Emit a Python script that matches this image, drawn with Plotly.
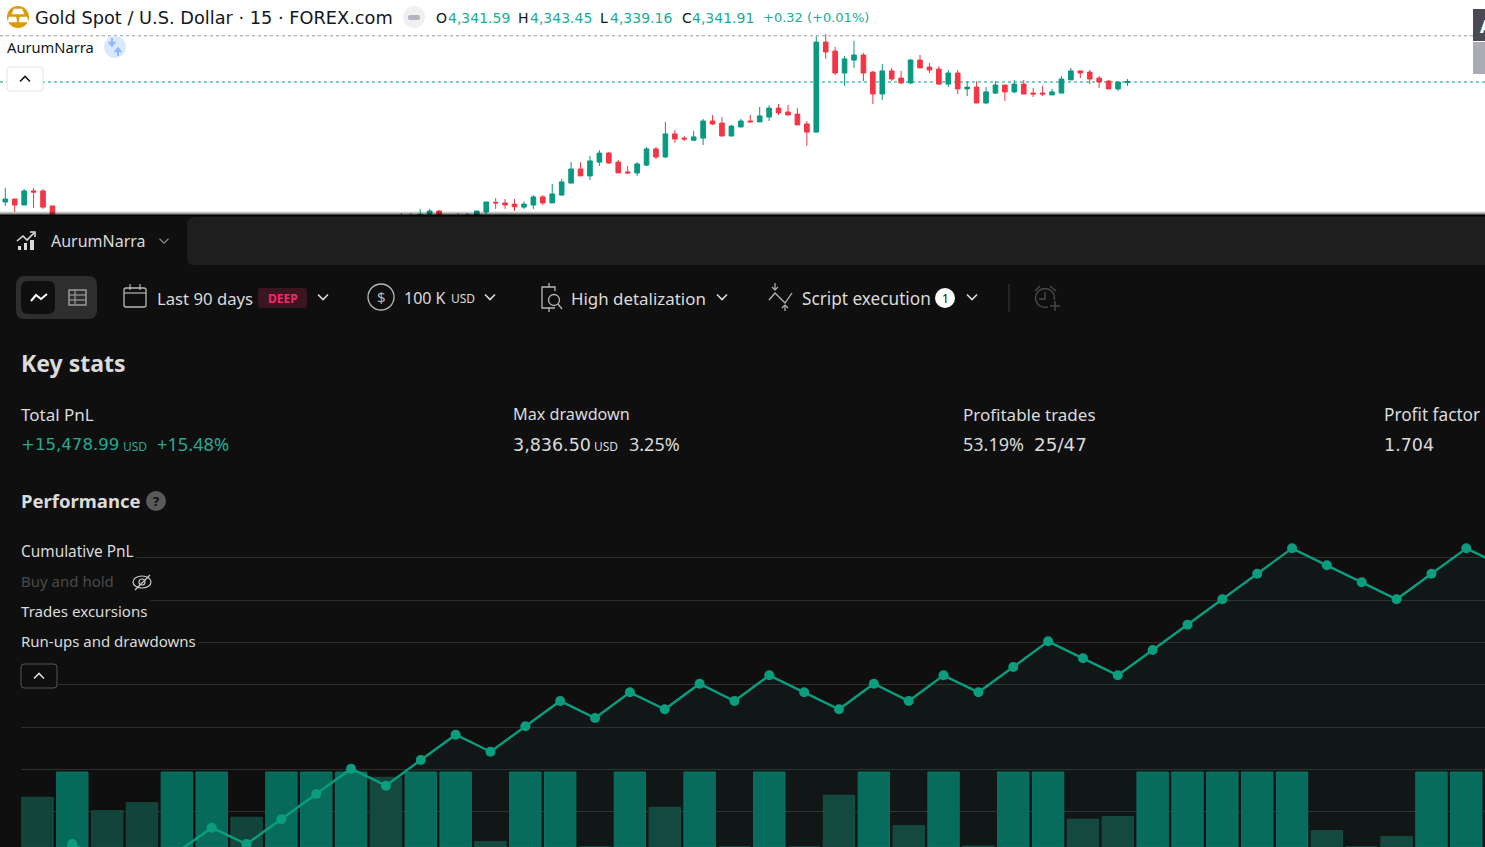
import plotly.graph_objects as go

W, H = 1485, 847
FONT = "Noto Sans"
NUMF = "DejaVu Sans"
GREEN, RED = "#089981", "#F23645"
BG, TXT = "#0F0F0F", "#DBDBDB"

# ---------- Gold 15m candles (price) ----------
candle_index = [0,1,2,3,4,5,42,43,44,45,46,48,49,50,51,52,53,54,55,56,57,58,59,60,61,62,63,64,65,66,67,68,69,70,71,72,73,74,75,76,77,78,79,80,81,82,83,84,85,86,87,88,89,90,91,92,93,94,95,96,97,98,99,100,101,102,103,104,105,106,107,108,109,110,111,112,113,114,115,116,117,118,119]
candle_open = [4337.91,4338.01,4337.81,4338.28,4338.28,4337.78,4337.38,4337.38,4337.38,4337.48,4337.61,4337.38,4337.38,4337.41,4337.58,4337.90,4337.88,4337.84,4337.74,4337.81,4338.08,4337.88,4338.14,4338.54,4339.01,4338.78,4339.24,4339.54,4339.24,4338.91,4338.88,4339.14,4339.68,4339.41,4340.18,4340.04,4339.97,4340.04,4340.61,4340.54,4340.11,4340.41,4340.61,4340.58,4340.74,4341.04,4340.91,4340.84,4340.51,4340.24,4343.24,4342.94,4342.21,4342.64,4342.81,4342.24,4341.51,4342.28,4342.04,4341.88,4342.64,4342.41,4342.34,4341.84,4342.21,4341.68,4341.74,4341.21,4341.54,4341.81,4341.58,4341.84,4341.54,4341.54,4341.48,4341.54,4341.98,4342.28,4342.24,4342.04,4341.94,4341.68,4341.89]
candle_high = [4338.38,4338.01,4338.34,4338.38,4338.34,4337.78,4337.54,4337.54,4337.68,4337.68,4337.64,4337.54,4337.54,4337.61,4337.91,4338.04,4338.01,4338.01,4337.93,4338.14,4338.14,4338.51,4338.68,4339.24,4339.24,4339.44,4339.64,4339.58,4339.31,4339.11,4339.24,4339.74,4339.74,4340.58,4340.31,4340.11,4340.28,4340.68,4340.81,4340.74,4340.48,4340.68,4340.81,4341.08,4341.14,4341.18,4341.14,4341.04,4340.61,4343.44,4343.51,4343.08,4342.78,4343.28,4342.88,4342.28,4342.51,4342.38,4342.28,4342.68,4342.81,4342.54,4342.44,4342.31,4342.31,4341.94,4341.94,4341.74,4341.94,4341.81,4341.98,4341.98,4341.71,4341.78,4341.68,4342.11,4342.38,4342.28,4342.31,4342.11,4341.98,4341.94,4342.01]
candle_low = [4337.78,4337.58,4337.81,4337.71,4337.68,4337.14,4337.31,4337.31,4337.31,4337.41,4337.31,4337.31,4337.31,4337.38,4337.51,4337.68,4337.68,4337.61,4337.68,4337.68,4337.81,4337.88,4338.14,4338.54,4338.78,4338.64,4339.11,4339.18,4338.88,4338.84,4338.78,4339.11,4339.34,4339.38,4339.88,4339.94,4339.94,4339.81,4340.48,4340.11,4340.11,4340.41,4340.58,4340.58,4340.61,4340.81,4340.81,4340.48,4339.78,4340.24,4342.68,4342.14,4341.78,4342.38,4341.94,4341.18,4341.31,4341.94,4341.84,4341.84,4342.38,4342.21,4341.81,4341.74,4341.51,4341.44,4341.21,4341.18,4341.51,4341.28,4341.54,4341.51,4341.41,4341.44,4341.48,4341.54,4341.98,4342.04,4341.84,4341.71,4341.68,4341.61,4341.78]
candle_close = [4338.01,4337.81,4338.28,4338.24,4337.74,4337.31,4337.41,4337.41,4337.50,4337.61,4337.38,4337.44,4337.48,4337.61,4337.91,4337.88,4337.81,4337.75,4337.84,4338.08,4337.88,4338.18,4338.58,4339.01,4338.78,4339.28,4339.54,4339.21,4338.88,4338.88,4339.18,4339.68,4339.41,4340.18,4340.01,4340.01,4340.08,4340.61,4340.51,4340.11,4340.44,4340.61,4340.58,4340.78,4341.04,4340.88,4340.81,4340.48,4340.24,4343.24,4342.91,4342.21,4342.68,4342.81,4342.21,4341.51,4342.28,4342.01,4341.88,4342.64,4342.38,4342.31,4341.84,4342.21,4341.68,4341.74,4341.21,4341.58,4341.81,4341.58,4341.84,4341.51,4341.51,4341.51,4341.58,4342.01,4342.28,4342.21,4342.01,4341.91,4341.68,4341.91,4341.93]
high_price = 4343.45
last_price = 4341.91

# ---------- Performance chart ----------
trade_no = list(range(1, 44))
cumulative_pnl = [-7100,-5300,-6500,-7700,-5900,-4140,-5300,-3546,-1750,42,-1163,660,2454,1248,3050,4844,3638,5460,4255,6070,4844,6666,5460,4255,6070,4844,6666,5460,7255,9078,7872,6666,8460,10255,12056,13872,15673,14467,13261,12056,13872,15673,14467]
win_bars = [None,1500,None,None,1500,1500,None,1500,1500,1500,None,1500,1500,None,1500,1500,None,1500,None,1500,None,1500,None,None,1500,None,1500,None,1500,1500,None,None,1500,1500,1500,1500,1500,None,None,None,1500,1500]
loss_bars = [994,None,726,886,None,None,594,None,None,None,1394,None,None,106,None,None,0,None,794,None,0,None,0,1034,None,426,None,20,None,None,554,606,None,None,None,None,None,326,0,206,None,None]
bar_trades = list(range(1, 43))

# ---------- Layout helpers (screen geometry only) ----------
fx = lambda px: px / W
fy = lambda py: 1 - py / H
shapes, notes = [], []

def panel(x0, y0, x1, y1, fill, r=0):
    # backdrop panels sit on the first, full-page subplot (axes measured in screen pixels)
    if r:
        d = (f"M{x0+r},{y0} L{x1},{y0} L{x1},{y1} L{x0+r},{y1} Q{x0},{y1} {x0},{y1-r} L{x0},{y0+r} Q{x0},{y0} {x0+r},{y0} Z")
        shapes.append(dict(type="path", xref="x", yref="y", path=d, fillcolor=fill, line=dict(width=0), layer="below"))
    else:
        shapes.append(dict(type="rect", xref="x", yref="y", x0=x0, x1=x1, y0=y0, y1=y1, fillcolor=fill, line=dict(width=0), layer="below"))

def rect(x0, y0, x1, y1, fill=None, line=None, lw=1, opacity=1):
    shapes.append(dict(type="rect", xref="paper", yref="paper", x0=fx(x0), x1=fx(x1), y0=fy(y0), y1=fy(y1),
                       fillcolor=fill or "rgba(0,0,0,0)", line=dict(color=line or "rgba(0,0,0,0)", width=lw if line else 0),
                       layer="above", opacity=opacity))

def rrect(x0, y0, x1, y1, r, fill=None, line=None, lw=1):
    p = lambda x, y: f"{fx(x)},{fy(y)}"
    d = (f"M{p(x0+r,y0)} L{p(x1-r,y0)} Q{p(x1,y0)} {p(x1,y0+r)} L{p(x1,y1-r)} Q{p(x1,y1)} {p(x1-r,y1)} "
         f"L{p(x0+r,y1)} Q{p(x0,y1)} {p(x0,y1-r)} L{p(x0,y0+r)} Q{p(x0,y0)} {p(x0+r,y0)} Z")
    shapes.append(dict(type="path", xref="paper", yref="paper", path=d, fillcolor=fill or "rgba(0,0,0,0)",
                       line=dict(color=line or "rgba(0,0,0,0)", width=lw if line else 0), layer="above"))

def circle(cx, cy, rx, ry=None, fill=None, line=None, lw=1):
    ry = ry or rx
    shapes.append(dict(type="circle", xref="paper", yref="paper", x0=fx(cx-rx), x1=fx(cx+rx), y0=fy(cy-ry), y1=fy(cy+ry),
                       fillcolor=fill or "rgba(0,0,0,0)", line=dict(color=line or "rgba(0,0,0,0)", width=lw if line else 0), layer="above"))

def poly(pts, color="#DBDBDB", lw=1.5, fill=None, closed=False):
    d = "M" + " L".join(f"{fx(x)},{fy(y)}" for x, y in pts) + (" Z" if closed else "")
    shapes.append(dict(type="path", xref="paper", yref="paper", path=d, fillcolor=fill or "rgba(0,0,0,0)",
                       line=dict(color=color, width=lw), layer="above"))

def chev(x, y, up=False, color="#DBDBDB", s=5, lw=1.6):
    d = -1 if up else 1
    poly([(x-s, y-d*s/2), (x, y+d*s/2), (x+s, y-d*s/2)], color, lw)

def txt(x, y, s, size=16, color=TXT, anchor="left", bg=None, font=FONT):
    notes.append(dict(xref="paper", yref="paper", x=fx(x), y=fy(y), text=s, showarrow=False, xanchor=anchor, yanchor="middle",
                      font=dict(family=font, size=size, color=color), bgcolor=bg, borderpad=2 if bg else 0))

# Panels
panel(0, 215, W, H, BG)
panel(187, 217, W, 265, "#1E1E1E", r=8)
for i, a in enumerate([0.08, 0.22, 0.42, 0.7, 0.95]):
    rect(0, 211 + i, W, 212 + i, fill="#000000", opacity=a)

# --- Top header ---
circle(18, 17, 11, fill="#DB9B04")
poly([(14, 9), (22, 9), (24, 14), (12, 14)], "#FFFFFF", 0.5, "#FFFFFF", True)
poly([(9, 17), (16, 17), (17, 22), (8, 22)], "#FFFFFF", 0.5, "#FFFFFF", True)
poly([(20, 17), (27, 17), (28, 22), (19, 22)], "#FFFFFF", 0.5, "#FFFFFF", True)
txt(34, 18, "Gold Spot / U.S. Dollar · 15 · FOREX.com", 17.75, "#131722", font=NUMF)
circle(414, 17, 11, fill="#F0F0F0")
rrect(408, 15, 420, 20, 2, fill="#B2B5BE")
for x, s, c in [(435, "O", "#131722"), (447, "4,341.59", "#22AB94"), (517, "H", "#131722"), (529, "4,343.45", "#22AB94"),
                (599, "L", "#131722"), (609, "4,339.16", "#22AB94"), (681, "C", "#131722"), (691, "4,341.91", "#22AB94"),
                (762, "+0.32 (+0.01%)", "#22AB94")]:
    txt(x, 18, s, 14 if s != "+0.32 (+0.01%)" else 13, c, font=NUMF)
txt(6, 47, "AurumNarra", 14.7, "#131722")
circle(115, 47, 11, fill="#DBE9FF")
poly([(112, 38), (112, 44)], "#8FB9FF", 2)
poly([(108, 42), (112, 47), (116, 42)], "#8FB9FF", 0.5, "#8FB9FF", True)
poly([(118, 49), (118, 56)], "#8FB9FF", 2)
poly([(114, 52), (118, 47), (122, 52)], "#8FB9FF", 0.5, "#8FB9FF", True)
rrect(7, 67, 43, 91, 3, fill="#FFFFFF", line="#E0E3EB")
chev(25, 79, up=True, color="#131722")
rect(1473, 9, W + 5, 41, fill="#4A4A55")
rect(1473, 42, W + 5, 74, fill="#ABACB3")
txt(1479, 26, "<b>A</b>", 18, "#FFFFFF")

# --- Tab bar ---
poly([(17, 241), (23, 236), (27, 240), (34, 233)], "#DBDBDB", 1.6)
poly([(30, 232), (35, 232), (35, 237)], "#DBDBDB", 1.6)
rect(18, 246, 21, 250, fill="#DBDBDB"); rect(24, 243, 27, 250, fill="#DBDBDB"); rect(30, 240, 34, 250, fill="#DBDBDB")
txt(50, 241, "AurumNarra", 16)
chev(164, 241, color="#8A8A8A", s=4.5, lw=1.2)

# --- Toolbar ---
rrect(16, 276, 97, 319, 9, fill="#2E2E2E")
rrect(21, 281, 55, 314, 7, fill=BG)
poly([(31, 301), (36, 295), (41, 299), (47, 294)], "#FFFFFF", 2)
rect(69, 290, 86, 305, line="#9A9A9A", lw=1.5)
poly([(69, 295), (86, 295)], "#9A9A9A", 1.2); poly([(69, 300), (86, 300)], "#9A9A9A", 1.2); poly([(75, 290), (75, 305)], "#9A9A9A", 1.2)
rrect(124, 288, 146, 307, 2, line="#B8B8B8", lw=1.3)
poly([(124, 293), (146, 293)], "#B8B8B8", 1.2); poly([(130, 284), (130, 290)], "#B8B8B8", 1.2); poly([(140, 284), (140, 290)], "#B8B8B8", 1.2)
txt(156, 298, "Last 90 days", 16.7)
rrect(258, 288, 307, 308, 3, fill="#3B1520")
txt(282.5, 298, "<b>DEEP</b>", 12, "#F7286D", anchor="center")
chev(323, 297)
circle(381, 297, 13, line="#B8B8B8", lw=1.3)
txt(381, 297, "$", 15, "#B8B8B8", anchor="center")
txt(403, 298, "100 K", 16)
txt(450, 299, "USD", 12)
chev(490, 297)
poly([(549, 283), (549, 287)], "#B8B8B8", 1.3); poly([(549, 308), (549, 312)], "#B8B8B8", 1.3)
poly([(555, 291), (555, 287), (542, 287), (542, 308), (555, 308)], "#B8B8B8", 1.3)
circle(554, 300, 5.5, line="#B8B8B8", lw=1.3)
poly([(558, 304), (562, 309)], "#B8B8B8", 1.3)
txt(570, 298, "High detalization", 16.9)
chev(722, 297)
poly([(769, 300), (775, 293), (785, 303), (792, 293)], "#B8B8B8", 1.3)
poly([(775, 283), (775, 290)], "#B8B8B8", 1.2); poly([(772, 287), (775, 290), (778, 287)], "#B8B8B8", 1.2)
poly([(785, 305), (785, 311)], "#B8B8B8", 1.2); poly([(782, 308), (785, 305), (788, 308)], "#B8B8B8", 1.2)
txt(801, 298, "Script execution", 17.2)
circle(945, 298, 10, fill="#FFFFFF")
txt(945, 298, "1", 12, "#0F0F0F", anchor="center")
chev(972, 297)
poly([(1009, 284), (1009, 312)], "#333333", 1.2)
circle(1045, 298, 9.5, line="#4A4A4A", lw=1.4)
poly([(1045, 292), (1045, 299), (1039, 299)], "#4A4A4A", 1.4)
poly([(1035, 291), (1040, 286)], "#4A4A4A", 1.4); poly([(1050, 286), (1056, 291)], "#4A4A4A", 1.4)
rect(1048, 300, 1062, 314, fill=BG)
poly([(1055, 301), (1055, 311)], "#4A4A4A", 1.4); poly([(1050, 306), (1060, 306)], "#4A4A4A", 1.4)

# --- Stats ---
txt(20, 363, "<b>Key stats</b>", 23)
for x, s, z in [(20, "Total PnL", 17), (512, "Max drawdown", 16.2), (962, "Profitable trades", 17), (1383, "Profit factor", 17.2)]:
    txt(x, 414, s, z)
VG = "#22AB94"
txt(20, 444.5, "+15,478.99", 16.6, VG, font=NUMF); txt(122, 446, "USD", 12, VG); txt(156, 444, "+15.48%", 18.2, VG)
txt(512, 445, "3,836.50", 17.5, font=NUMF); txt(593, 446, "USD", 12); txt(628, 444, "3.25%", 18)
txt(962, 444, "53.19%", 18); txt(1033, 445, "25/47", 18.4, font=NUMF)
txt(1383, 445, "1.704", 17.5, font=NUMF)
txt(20, 501, "<b>Performance</b>", 18.5)
circle(156, 501, 10, fill="#5A5A5A")
txt(156, 501, "<b>?</b>", 13, BG, anchor="center")

# --- Chart side labels ---
txt(18, 551, "Cumulative PnL", 15.4, TXT, bg=BG)
txt(18, 581, "Buy and hold", 15, "#4A4A4A", bg=BG)
txt(18, 611, "Trades excursions", 15.1, TXT, bg=BG)
txt(18, 641, "Run-ups and drawdowns", 15, TXT, bg=BG)
circle(142, 582, 9, 6, line="#C8C8C8", lw=1.2)
circle(142, 582, 3, line="#C8C8C8", lw=1.2)
poly([(135, 590), (150, 575)], "#C8C8C8", 1.2)
rrect(21, 664, 57, 688, 3, fill=BG, line="#555555")
chev(39, 676, up=True)

fig = go.Figure()

# empty trace keeps the full-page backdrop subplot alive underneath everything
fig.add_trace(go.Scatter(x=[None], y=[None], xaxis="x", yaxis="y", hoverinfo="skip", showlegend=False))

fig.add_trace(go.Candlestick(
    x=candle_index, open=candle_open, high=candle_high, low=candle_low, close=candle_close,
    increasing=dict(line=dict(color=GREEN, width=1), fillcolor=GREEN),
    decreasing=dict(line=dict(color=RED, width=1), fillcolor=RED),
    whiskerwidth=0, xaxis="x2", yaxis="y2", hoverinfo="skip"))

fig.add_trace(go.Bar(x=bar_trades, y=loss_bars, width=0.9, marker=dict(color="#11453B", line=dict(color="#154B40", width=1)), xaxis="x3", yaxis="y3", hoverinfo="skip"))
fig.add_trace(go.Bar(x=bar_trades, y=win_bars, width=0.9, marker=dict(color="#066A5A", line=dict(color="#097162", width=1)), xaxis="x3", yaxis="y3", hoverinfo="skip"))

pnl_bottom = -5510
fig.add_trace(go.Scatter(x=trade_no, y=[pnl_bottom] * len(trade_no), mode="lines", line=dict(width=0),
                         xaxis="x3", yaxis="y4", hoverinfo="skip"))
fig.add_trace(go.Scatter(x=trade_no, y=cumulative_pnl, mode="lines+markers", fill="tonexty", fillcolor="rgba(50,160,140,0.06)",
                         line=dict(color="#0A9E7E", width=2.4), marker=dict(color="#0A9E7E", size=10),
                         xaxis="x3", yaxis="y4", hoverinfo="skip"))

shapes.append(dict(type="line", xref="paper", yref="y2", x0=0, x1=1, y0=high_price, y1=high_price, line=dict(color="#9598A1", width=1, dash="dot"), layer="below"))
shapes.append(dict(type="line", xref="paper", yref="y2", x0=0, x1=1, y0=last_price, y1=last_price, line=dict(color=GREEN, width=1, dash="dot"), layer="below"))

px_per_trade = 34.85
t_left = 2 + (21 - 72.3) / px_per_trade
t_right = 2 + (W - 72.3) / px_per_trade

fig.update_layout(
    width=W, height=H, autosize=False, margin=dict(l=0, r=0, t=0, b=0, pad=0),
    paper_bgcolor="#FFFFFF", plot_bgcolor="rgba(0,0,0,0)", showlegend=False, barmode="overlay", boxgap=0.3,
    xaxis=dict(domain=[0, 1], range=[0, W], visible=False, fixedrange=True),
    yaxis=dict(domain=[0, 1], range=[H, 0], visible=False, fixedrange=True),
    xaxis2=dict(domain=[0, 1], range=[-5.3 / 9.43, (W - 5.3) / 9.43], visible=False, anchor="y2", rangeslider=dict(visible=False), fixedrange=True),
    yaxis2=dict(domain=[1 - 215 / H, 1], range=[4337.477, 4344.643], visible=False, anchor="x2", fixedrange=True),
    xaxis3=dict(domain=[21 / W, 1], range=[t_left, t_right], visible=False, anchor="y3", fixedrange=True),
    yaxis3=dict(domain=[0, 317 / H], range=[0, 6340], visible=False, anchor="x3", fixedrange=True),
    yaxis4=dict(domain=[0, 317 / H], range=[pnl_bottom, 16971], overlaying="y3", anchor="x3", tick0=0, dtick=3000,
                showgrid=True, gridcolor="#2E2E2E", gridwidth=1, zeroline=True, zerolinecolor="#2E2E2E", zerolinewidth=1,
                showticklabels=False, ticks="", showline=False, fixedrange=True),
    shapes=shapes, annotations=notes,
)

fig.write_html("out.html", config=dict(displayModeBar=False),
               post_script="document.body.style.margin='0';document.body.style.overflow='hidden';")
